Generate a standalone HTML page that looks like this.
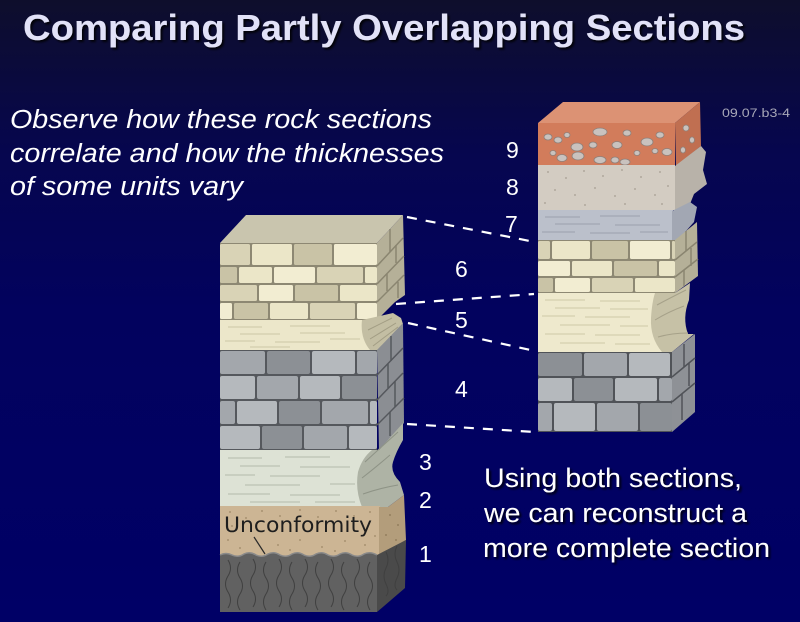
<!DOCTYPE html>
<html><head><meta charset="utf-8"><style>
html,body{margin:0;padding:0;background:#03035a;}
svg{display:block}
</style></head><body>
<svg width="800" height="622" viewBox="0 0 800 622" xmlns="http://www.w3.org/2000/svg">
<defs>
<linearGradient id="bg" x1="0" y1="0" x2="0" y2="1">
<stop offset="0" stop-color="#0e0e2c"/>
<stop offset="0.1" stop-color="#0b0b3a"/>
<stop offset="0.25" stop-color="#06064f"/>
<stop offset="0.5" stop-color="#02025e"/>
<stop offset="1" stop-color="#000066"/>
</linearGradient>
<filter id="sh" x="-5%" y="-20%" width="110%" height="150%"><feDropShadow dx="2" dy="2" stdDeviation="1" flood-color="#000" flood-opacity="0.85"/></filter>
</defs>
<rect width="800" height="622" fill="url(#bg)"/>

<!-- Title -->
<text x="23" y="40" font-family="Liberation Sans, Arial, sans-serif" font-weight="bold" font-size="36" fill="#e2e2f8" textLength="722" lengthAdjust="spacingAndGlyphs" filter="url(#sh)">Comparing Partly Overlapping Sections</text>

<!-- Italic text -->
<g font-family="Liberation Sans, Arial, sans-serif" font-style="italic" font-size="25.5" fill="#ffffff">
<text x="10" y="128" textLength="422" lengthAdjust="spacingAndGlyphs">Observe how these rock sections</text>
<text x="10" y="162" textLength="434" lengthAdjust="spacingAndGlyphs">correlate and how the thicknesses</text>
<text x="10" y="195" textLength="233" lengthAdjust="spacingAndGlyphs">of some units vary</text>
</g>

<text x="722" y="117" font-family="Liberation Sans, Arial, sans-serif" font-size="11.5" fill="#a8a8b8" textLength="68" lengthAdjust="spacingAndGlyphs">09.07.b3-4</text>

<!-- Right text -->
<g font-family="Liberation Sans, Arial, sans-serif" font-size="26.5" fill="#ffffff" filter="url(#sh)">
<text x="484" y="487" textLength="258" lengthAdjust="spacingAndGlyphs">Using both sections,</text>
<text x="484" y="522" textLength="263" lengthAdjust="spacingAndGlyphs">we can reconstruct a</text>
<text x="483" y="557" textLength="287" lengthAdjust="spacingAndGlyphs">more complete section</text>
</g>

<!-- ================= LEFT COLUMN ================= -->
<polygon points="220,243 246,215 403,215 377,243" fill="#c9c5ae"/>
<rect x="220" y="243" width="157" height="77" fill="#8d8873"/>
<g>
<rect x="220" y="244" width="30" height="21" rx="1.5" fill="#d9d3b6"/>
<rect x="252" y="244" width="40" height="21" rx="1.5" fill="#ebe6c8"/>
<rect x="294" y="244" width="38" height="21" rx="1.5" fill="#c9c3a6"/>
<rect x="334" y="244" width="43" height="21" rx="1.5" fill="#f2edd2"/>
<rect x="220" y="267" width="17" height="16" rx="1.5" fill="#c9c3a6"/>
<rect x="239" y="267" width="33" height="16" rx="1.5" fill="#ebe6c8"/>
<rect x="274" y="267" width="41" height="16" rx="1.5" fill="#f2edd2"/>
<rect x="317" y="267" width="46" height="16" rx="1.5" fill="#d9d3b6"/>
<rect x="365" y="267" width="12" height="16" rx="1.5" fill="#ebe6c8"/>
<rect x="220" y="285" width="37" height="16" rx="1.5" fill="#d9d3b6"/>
<rect x="259" y="285" width="34" height="16" rx="1.5" fill="#f2edd2"/>
<rect x="295" y="285" width="43" height="16" rx="1.5" fill="#c9c3a6"/>
<rect x="340" y="285" width="37" height="16" rx="1.5" fill="#ebe6c8"/>
<rect x="220" y="303" width="12" height="16" rx="1.5" fill="#f2edd2"/>
<rect x="234" y="303" width="34" height="16" rx="1.5" fill="#c9c3a6"/>
<rect x="270" y="303" width="38" height="16" rx="1.5" fill="#ebe6c8"/>
<rect x="310" y="303" width="45" height="16" rx="1.5" fill="#d9d3b6"/>
<rect x="357" y="303" width="20" height="16" rx="1.5" fill="#f2edd2"/>
</g>
<polygon points="377,243 403,215 405,295 395,302 377,320" fill="#b5b098"/>
<g stroke="#8a8570" stroke-width="1.5" fill="none">
<line x1="377" y1="266" x2="403" y2="238"/>
<line x1="377" y1="284" x2="404" y2="256"/>
<line x1="377" y1="302" x2="404" y2="275"/>
<line x1="390" y1="229" x2="390" y2="252"/>
<line x1="396" y1="245" x2="396" y2="263"/>
<line x1="387" y1="274" x2="387" y2="291"/>
<line x1="398" y1="282" x2="398" y2="298"/>
</g>
<rect x="220" y="320" width="152" height="30" fill="#ece7ca"/>
<g stroke="#cdc7a6" stroke-width="1">
<line x1="228" y1="327" x2="262" y2="327"/><line x1="290" y1="326" x2="330" y2="326"/>
<line x1="240" y1="334" x2="280" y2="334"/><line x1="300" y1="333" x2="345" y2="333"/>
<line x1="225" y1="341" x2="255" y2="341"/><line x1="275" y1="342" x2="320" y2="342"/>
<line x1="330" y1="339" x2="360" y2="339"/><line x1="250" y1="347" x2="290" y2="347"/>
</g>
<path d="M362,320 L393,313 L401,318 L403,324 L379,350 L370,350 Q360,338 362,320 Z" fill="#c3bea3"/>
<g stroke="#a29d84" stroke-width="1" fill="none">
<path d="M368,330 L392,318"/><path d="M370,339 L396,323"/><path d="M373,346 L398,327"/>
</g>
<rect x="220" y="350" width="157" height="100" fill="#55585d"/>
<g>
<rect x="220" y="351" width="45" height="23" rx="2" fill="#a3a7ac"/>
<rect x="267" y="351" width="43" height="23" rx="2" fill="#8c9095"/>
<rect x="312" y="351" width="43" height="23" rx="2" fill="#b5b9bd"/>
<rect x="357" y="351" width="20" height="23" rx="2" fill="#a3a7ac"/>
<rect x="220" y="376" width="35" height="23" rx="2" fill="#b5b9bd"/>
<rect x="257" y="376" width="41" height="23" rx="2" fill="#a3a7ac"/>
<rect x="300" y="376" width="40" height="23" rx="2" fill="#b5b9bd"/>
<rect x="342" y="376" width="35" height="23" rx="2" fill="#8c9095"/>
<rect x="220" y="401" width="15" height="23" rx="2" fill="#a3a7ac"/>
<rect x="237" y="401" width="40" height="23" rx="2" fill="#b5b9bd"/>
<rect x="279" y="401" width="41" height="23" rx="2" fill="#8c9095"/>
<rect x="322" y="401" width="46" height="23" rx="2" fill="#a3a7ac"/>
<rect x="370" y="401" width="7" height="23" rx="2" fill="#b5b9bd"/>
<rect x="220" y="426" width="40" height="23" rx="2" fill="#b5b9bd"/>
<rect x="262" y="426" width="40" height="23" rx="2" fill="#8c9095"/>
<rect x="304" y="426" width="43" height="23" rx="2" fill="#a3a7ac"/>
<rect x="349" y="426" width="28" height="23" rx="2" fill="#b5b9bd"/>
</g>
<polygon points="377,350 403,323 404,423 379,450" fill="#8b8e93"/>
<g stroke="#55585d" stroke-width="1.5" fill="none">
<line x1="377" y1="375" x2="403" y2="348"/>
<line x1="377" y1="400" x2="403" y2="373"/>
<line x1="377" y1="425" x2="404" y2="398"/>
<line x1="391" y1="336" x2="391" y2="361"/>
<line x1="388" y1="364" x2="388" y2="388"/>
<line x1="395" y1="381" x2="395" y2="407"/>
<line x1="390" y1="412" x2="390" y2="436"/>
</g>
<rect x="220" y="450" width="160" height="57" fill="#dde2d5"/>
<g stroke="#b3b9ab" stroke-width="1">
<line x1="228" y1="458" x2="262" y2="458"/><line x1="285" y1="457" x2="330" y2="457"/>
<line x1="240" y1="466" x2="280" y2="466"/><line x1="300" y1="467" x2="350" y2="467"/>
<line x1="225" y1="475" x2="255" y2="475"/><line x1="270" y1="476" x2="320" y2="476"/>
<line x1="330" y1="484" x2="355" y2="484"/><line x1="245" y1="485" x2="300" y2="485"/>
<line x1="228" y1="494" x2="270" y2="494"/><line x1="290" y1="495" x2="340" y2="495"/>
<line x1="250" y1="502" x2="300" y2="502"/><line x1="315" y1="502" x2="355" y2="502"/>
</g>
<path d="M372,450 L379,450 L403,423 L403,440 Q396,452 393,462 Q390,472 400,482 L404,495 L388,507 L362,507 Q355,490 358,472 Q362,458 372,450 Z" fill="#aeb3a5"/>
<g stroke="#8e9386" stroke-width="1" fill="none">
<path d="M365,462 Q378,450 398,432"/><path d="M362,478 Q375,468 390,455"/><path d="M363,494 Q380,488 398,485"/>
</g>
<rect x="220" y="506" width="160" height="50" fill="#ccb594"/>
<g fill="#9d8766">
<circle cx="230" cy="512" r="0.9"/><circle cx="246" cy="518" r="0.9"/><circle cx="262" cy="511" r="0.9"/><circle cx="280" cy="516" r="0.9"/>
<circle cx="300" cy="510" r="0.9"/><circle cx="318" cy="517" r="0.9"/><circle cx="336" cy="511" r="0.9"/><circle cx="354" cy="516" r="0.9"/>
<circle cx="370" cy="512" r="0.9"/><circle cx="228" cy="540" r="0.9"/><circle cx="240" cy="548" r="0.9"/><circle cx="278" cy="545" r="0.9"/>
<circle cx="300" cy="540" r="0.9"/><circle cx="322" cy="547" r="0.9"/><circle cx="345" cy="541" r="0.9"/><circle cx="365" cy="545" r="0.9"/>
<circle cx="290" cy="550" r="0.9"/><circle cx="335" cy="551" r="0.9"/><circle cx="375" cy="536" r="0.9"/><circle cx="232" cy="526" r="0.9"/>
</g>
<path d="M379,507 L388,507 L404,495 L406,540 L379,556 Z" fill="#b39d7b"/>
<g fill="#8a7556"><circle cx="390" cy="515" r="0.9"/><circle cx="398" cy="525" r="0.9"/><circle cx="386" cy="535" r="0.9"/><circle cx="396" cy="540" r="0.9"/></g>
<text x="224" y="532" font-family="DejaVu Sans, Liberation Sans, sans-serif" font-size="21" fill="#1e1e1e" textLength="148" lengthAdjust="spacingAndGlyphs">Unconformity</text>
<line x1="254" y1="537" x2="265" y2="554" stroke="#2a2a2a" stroke-width="1.2"/>
<!-- layer 1 -->
<path d="M220,555 Q226,552 232,555 Q238,558 244,554 Q250,551 256,555 Q262,558 268,554 Q274,551 280,555 Q286,558 292,554 Q298,551 304,555 Q310,558 316,554 Q322,551 328,555 Q334,558 340,554 Q346,551 352,555 Q358,558 364,554 Q370,551 377,555 L377,612 L220,612 Z" fill="#616161"/>
<path d="M377,555 L406,540 L405,588 L377,612 Z" fill="#4a4a4a"/>
<path d="M220,555 Q226,552 232,555 Q238,558 244,554 Q250,551 256,555 Q262,558 268,554 Q274,551 280,555 Q286,558 292,554 Q298,551 304,555 Q310,558 316,554 Q322,551 328,555 Q334,558 340,554 Q346,551 352,555 Q358,558 364,554 Q370,551 377,555" fill="none" stroke="#8a8a8a" stroke-width="1.5"/>
<g stroke="#404040" stroke-width="1" fill="none">
<path d="M228,560 q5,8 0,16 q-5,8 0,16 q5,8 0,16"/>
<path d="M240,562 q-5,8 0,16 q5,8 0,16 q-5,8 0,16"/>
<path d="M253,559 q5,8 0,16 q-5,8 0,16 q5,8 0,16"/>
<path d="M266,562 q-5,8 0,16 q5,8 0,16 q-5,8 0,16"/>
<path d="M279,559 q5,8 0,16 q-5,8 0,16 q5,8 0,16"/>
<path d="M292,562 q-5,8 0,16 q5,8 0,16 q-5,8 0,16"/>
<path d="M305,559 q5,8 0,16 q-5,8 0,16 q5,8 0,16"/>
<path d="M318,562 q-5,8 0,16 q5,8 0,16 q-5,8 0,16"/>
<path d="M331,559 q5,8 0,16 q-5,8 0,16 q5,8 0,16"/>
<path d="M344,562 q-5,8 0,16 q5,8 0,16 q-5,8 0,16"/>
<path d="M357,559 q5,8 0,16 q-5,8 0,16 q5,8 0,16"/>
<path d="M370,562 q-5,8 0,16 q5,8 0,16 q-5,8 0,16"/>
<path d="M386,552 q4,8 0,16 q-4,8 0,16 q4,8 0,12"/>
<path d="M397,546 q-4,8 0,16 q4,8 0,16 q-4,8 0,12"/>
</g>

<!-- ================= RIGHT COLUMN ================= -->
<polygon points="538,123 563,102 700,102 675,123" fill="#dc9274"/>
<rect x="538" y="123" width="137" height="43" fill="#d27c5b"/>
<polygon points="675,123 700,102 701,146 676,166" fill="#c06f51"/>
<g fill="#c9c2be" stroke="#8f807a" stroke-width="0.8">
<ellipse cx="600" cy="132" rx="7" ry="4"/><ellipse cx="627" cy="133" rx="4" ry="3"/>
<ellipse cx="577" cy="147" rx="6" ry="4"/><ellipse cx="593" cy="145" rx="4" ry="3"/>
<ellipse cx="548" cy="137" rx="4" ry="3"/><ellipse cx="558" cy="140" rx="4" ry="3"/>
<ellipse cx="617" cy="145" rx="5" ry="3.5"/><ellipse cx="647" cy="142" rx="6" ry="4"/>
<ellipse cx="660" cy="135" rx="4" ry="3"/><ellipse cx="667" cy="152" rx="5" ry="3.5"/>
<ellipse cx="655" cy="151" rx="3" ry="2.5"/><ellipse cx="600" cy="160" rx="6" ry="3.5"/>
<ellipse cx="615" cy="160" rx="4" ry="3"/><ellipse cx="625" cy="162" rx="5" ry="3"/>
<ellipse cx="562" cy="158" rx="5" ry="3.5"/><ellipse cx="578" cy="156" rx="6" ry="4"/>
<ellipse cx="553" cy="153" rx="3" ry="2.5"/><ellipse cx="637" cy="153" rx="3" ry="2.5"/>
<ellipse cx="567" cy="135" rx="3" ry="2.5"/><ellipse cx="686" cy="128" rx="3" ry="3"/>
<ellipse cx="692" cy="140" rx="2.5" ry="3"/><ellipse cx="683" cy="150" rx="2.5" ry="3"/>
</g>
<rect x="538" y="165" width="137" height="45" fill="#d3ccc2"/>
<path d="M675,166 L701,146 L706,152 L703,170 L707,184 L694,194 L690,204 L675,211 Z" fill="#b8b2a9"/>
<g fill="#a59d92">
<circle cx="548" cy="172" r="0.9"/><circle cx="566" cy="178" r="0.9"/><circle cx="584" cy="171" r="0.9"/><circle cx="603" cy="176" r="0.9"/>
<circle cx="622" cy="170" r="0.9"/><circle cx="641" cy="177" r="0.9"/><circle cx="660" cy="172" r="0.9"/><circle cx="555" cy="190" r="0.9"/>
<circle cx="575" cy="195" r="0.9"/><circle cx="595" cy="188" r="0.9"/><circle cx="615" cy="196" r="0.9"/><circle cx="635" cy="189" r="0.9"/>
<circle cx="655" cy="195" r="0.9"/><circle cx="668" cy="186" r="0.9"/><circle cx="545" cy="203" r="0.9"/><circle cx="585" cy="205" r="0.9"/>
<circle cx="625" cy="204" r="0.9"/><circle cx="662" cy="204" r="0.9"/>
</g>
<rect x="538" y="210" width="135" height="30" fill="#bbc0cb"/>
<path d="M672,211 L690,202 L697,207 L694,222 L678,240 L672,240 Z" fill="#a2a7b3"/>
<g stroke="#9ba0ad" stroke-width="1">
<line x1="545" y1="217" x2="580" y2="217"/><line x1="600" y1="216" x2="640" y2="216"/>
<line x1="555" y1="224" x2="600" y2="224"/><line x1="615" y1="225" x2="660" y2="225"/>
<line x1="542" y1="232" x2="575" y2="232"/><line x1="590" y1="233" x2="630" y2="233"/>
<line x1="640" y1="232" x2="668" y2="232"/>
</g>
<rect x="538" y="240" width="137" height="53" fill="#8d8873"/>
<g>
<rect x="538" y="241" width="12" height="18" rx="1.5" fill="#d9d3b6"/>
<rect x="552" y="241" width="38" height="18" rx="1.5" fill="#ebe6c8"/>
<rect x="592" y="241" width="36" height="18" rx="1.5" fill="#c9c3a6"/>
<rect x="630" y="241" width="40" height="18" rx="1.5" fill="#f2edd2"/>
<rect x="672" y="241" width="3" height="18" rx="1" fill="#d9d3b6"/>
<rect x="538" y="261" width="32" height="15" rx="1.5" fill="#f2edd2"/>
<rect x="572" y="261" width="40" height="15" rx="1.5" fill="#ebe6c8"/>
<rect x="614" y="261" width="43" height="15" rx="1.5" fill="#c9c3a6"/>
<rect x="659" y="261" width="16" height="15" rx="1.5" fill="#ebe6c8"/>
<rect x="538" y="278" width="15" height="14" rx="1.5" fill="#c9c3a6"/>
<rect x="555" y="278" width="35" height="14" rx="1.5" fill="#f2edd2"/>
<rect x="592" y="278" width="41" height="14" rx="1.5" fill="#d9d3b6"/>
<rect x="635" y="278" width="40" height="14" rx="1.5" fill="#ebe6c8"/>
</g>
<polygon points="675,240 697,222 698,276 675,293" fill="#b5b098"/>
<g stroke="#8a8570" stroke-width="1.5" fill="none">
<line x1="675" y1="260" x2="697" y2="242"/>
<line x1="675" y1="277" x2="698" y2="259"/>
<line x1="686" y1="231" x2="686" y2="251"/>
<line x1="691" y1="248" x2="691" y2="266"/>
<line x1="684" y1="270" x2="684" y2="286"/>
</g>
<rect x="538" y="293" width="134" height="59" fill="#eee9cd"/>
<g stroke="#cfc9a8" stroke-width="1">
<line x1="545" y1="300" x2="585" y2="300"/><line x1="600" y1="301" x2="640" y2="301"/>
<line x1="555" y1="308" x2="600" y2="308"/><line x1="610" y1="309" x2="648" y2="309"/>
<line x1="542" y1="316" x2="575" y2="316"/><line x1="585" y1="317" x2="630" y2="317"/>
<line x1="560" y1="325" x2="610" y2="325"/><line x1="620" y1="326" x2="648" y2="326"/>
<line x1="545" y1="334" x2="585" y2="334"/><line x1="595" y1="335" x2="640" y2="335"/>
<line x1="560" y1="343" x2="605" y2="343"/><line x1="615" y1="344" x2="650" y2="344"/>
</g>
<path d="M655,293 L675,293 L690,283 L689,300 Q682,318 688,334 L694,334 L672,352 L662,352 Q650,338 651,318 Q652,302 655,293 Z" fill="#c6c1a6"/>
<g stroke="#a6a189" stroke-width="1" fill="none">
<path d="M657,305 Q670,298 686,290"/><path d="M655,320 Q668,312 684,306"/><path d="M658,337 Q672,333 688,333"/>
</g>
<rect x="538" y="352" width="134" height="80" fill="#505358"/>
<g>
<rect x="538" y="353" width="44" height="23" rx="2" fill="#8c9095"/>
<rect x="584" y="353" width="43" height="23" rx="2" fill="#a3a7ac"/>
<rect x="629" y="353" width="41" height="23" rx="2" fill="#b5b9bd"/>
<rect x="538" y="378" width="34" height="23" rx="2" fill="#b5b9bd"/>
<rect x="574" y="378" width="39" height="23" rx="2" fill="#8c9095"/>
<rect x="615" y="378" width="42" height="23" rx="2" fill="#b5b9bd"/>
<rect x="659" y="378" width="13" height="23" rx="2" fill="#a3a7ac"/>
<rect x="538" y="403" width="14" height="28" rx="2" fill="#a3a7ac"/>
<rect x="554" y="403" width="41" height="28" rx="2" fill="#b5b9bd"/>
<rect x="597" y="403" width="41" height="28" rx="2" fill="#a3a7ac"/>
<rect x="640" y="403" width="32" height="28" rx="2" fill="#8c9095"/>
</g>
<polygon points="672,352 695,334 695,412 672,432" fill="#8e9196"/>
<g stroke="#505358" stroke-width="1.5" fill="none">
<line x1="672" y1="377" x2="695" y2="358"/>
<line x1="672" y1="402" x2="695" y2="383"/>
<line x1="684" y1="344" x2="684" y2="367"/>
<line x1="689" y1="363" x2="689" y2="386"/>
<line x1="682" y1="394" x2="682" y2="420"/>
</g>

<!-- ================= DASHED LINES ================= -->
<g stroke="#ffffff" stroke-width="2.2" stroke-dasharray="10 9" fill="none">
<line x1="407" y1="217" x2="535" y2="242"/>
<line x1="396" y1="304" x2="534" y2="294"/>
<line x1="408" y1="323" x2="535" y2="351"/>
<line x1="407" y1="424" x2="535" y2="432"/>
</g>

<!-- ================= NUMBERS ================= -->
<g font-family="Liberation Sans, Arial, sans-serif" font-size="23" fill="#ffffff">
<text x="506" y="158">9</text>
<text x="506" y="195">8</text>
<text x="505" y="232">7</text>
<text x="455" y="277">6</text>
<text x="455" y="328">5</text>
<text x="455" y="397">4</text>
<text x="419" y="470">3</text>
<text x="419" y="508">2</text>
<text x="419" y="562">1</text>
</g>
</svg>
</body></html>
